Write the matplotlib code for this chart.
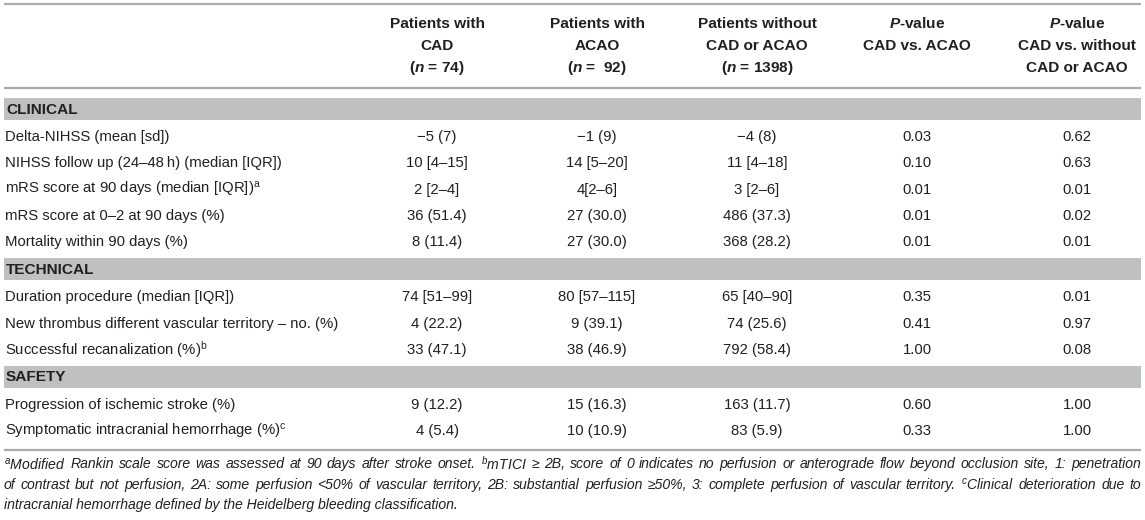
import matplotlib
matplotlib.use("Agg")
import matplotlib.pyplot as plt

plt.rcParams['font.family'] = ['Liberation Sans', 'DejaVu Sans']
plt.rcParams['mathtext.fontset'] = 'custom'
plt.rcParams['mathtext.rm'] = 'Liberation Sans'
plt.rcParams['mathtext.it'] = 'Liberation Sans:italic'
plt.rcParams['mathtext.bf'] = 'Liberation Sans:bold'
plt.rcParams['mathtext.bfit'] = 'Liberation Sans:italic:bold'

# table content
col_headers = [
    ["Patients with", "CAD", r"($\mathbfit{n}$ = 74)"],
    ["Patients with", "ACAO", r"($\mathbfit{n}$ =  92)"],
    ["Patients without", "CAD or ACAO", r"($\mathbfit{n}$ = 1398)"],
    [r"$\mathbfit{P}$-value", "CAD vs. ACAO"],
    [r"$\mathbfit{P}$-value", "CAD vs. without", "CAD or ACAO"],
]
sections = ["CLINICAL", "TECHNICAL", "SAFETY"]
section_sizes = [5, 3, 2]
row_labels = [
    "Delta-NIHSS (mean [sd])",
    "NIHSS follow up (24\u201348\u2009h) (median [IQR])",
    r"mRS score at 90 days (median [IQR])$^{\mathregular{a}}$",
    "mRS score at 0\u20132 at 90 days (%)",
    "Mortality within 90 days (%)",
    "Duration procedure (median [IQR])",
    "New thrombus different vascular territory \u2013 no. (%)",
    r"Successful recanalization (%)$^{\mathregular{b}}$",
    "Progression of ischemic stroke (%)",
    r"Symptomatic intracranial hemorrhage (%)$^{\mathregular{c}}$",
]
cad = ["\u22125 (7)", "10 [4\u201315]", "2 [2\u20134]", "36 (51.4)", "8 (11.4)",
       "74 [51\u201399]", "4 (22.2)", "33 (47.1)", "9 (12.2)", "4 (5.4)"]
acao = ["\u22121 (9)", "14 [5\u201320]", "4[2\u20136]", "27 (30.0)", "27 (30.0)",
        "80 [57\u2013115]", "9 (39.1)", "38 (46.9)", "15 (16.3)", "10 (10.9)"]
without = ["\u22124 (8)", "11 [4\u201318]", "3 [2\u20136]", "486 (37.3)", "368 (28.2)",
           "65 [40\u201390]", "74 (25.6)", "792 (58.4)", "163 (11.7)", "83 (5.9)"]
p_cad_acao = ["0.03", "0.10", "0.01", "0.01", "0.01", "0.35", "0.41", "1.00", "0.60", "0.33"]
p_cad_without = ["0.62", "0.63", "0.01", "0.02", "0.01", "0.01", "0.97", "0.08", "1.00", "1.00"]
footnotes = [
    r"$^{\mathit{a}}$Modified Rankin scale score was assessed at 90 days after stroke onset. "
    r"$^{\mathit{b}}$mTICI " + "\u2265" + " 2B, score of 0 indicates no perfusion or anterograde flow beyond occlusion site, 1: penetration",
    "of contrast but not perfusion, 2A: some perfusion <50% of vascular territory, 2B: substantial perfusion \u226550%, "
    r"3: complete perfusion of vascular territory. $^{\mathit{c}}$Clinical deterioration due to",
    "intracranial hemorrhage defined by the Heidelberg bleeding classification.",
]

# layout (pixels)
W, H = 1145, 520
left, right = 4, 1141
col_x = [437, 597, 757, 917, 1077]
txt = '#231f20'
band_col = '#bfc0c2'
rule_col = '#a9abae'
fs = 10.7
fs_head = 11.1
fs_note = 10.1

fig = plt.figure(figsize=(W / 100, H / 100), dpi=100)
ax = fig.add_axes([0, 0, 1, 1])
ax.set_xlim(0, W)
ax.set_ylim(H, 0)
ax.axis('off')

# header
ax.plot([left, right], [4, 4], color=rule_col, lw=1.6, solid_capstyle='butt')
for cx, lines in zip(col_x, col_headers):
    for k, s in enumerate(lines):
        ax.text(cx, 24 + 22 * k, s, ha='center', va='center', fontsize=fs_head,
                fontweight='bold', color=txt)
ax.plot([left, right], [87.5, 87.5], color=rule_col, lw=1.6, solid_capstyle='butt')

# body
y = 98
r = 0
band_h, row_h = 22, 26.3
columns = [cad, acao, without, p_cad_acao, p_cad_without]
for name, n in zip(sections, section_sizes):
    ax.add_patch(plt.Rectangle((left, y), right - left, band_h, color=band_col, lw=0))
    ax.text(left + 2, y + band_h / 2 + 0.5, name, ha='left', va='center', fontsize=fs_head,
            fontweight='bold', color=txt)
    yc = y + band_h + 17
    for i in range(n):
        ax.text(left + 1, yc, row_labels[r], ha='left', va='center', fontsize=fs, color=txt)
        for cx, vals in zip(col_x, columns):
            ax.text(cx, yc, vals[r], ha='center', va='center', fontsize=fs, color=txt)
        r += 1
        if i < n - 1:
            yc += row_h
    y = yc + 16

ax.plot([left, right], [y + 3, y + 3], color=rule_col, lw=1.6, solid_capstyle='butt')

# footnotes, justified over the table width
renderer = fig.canvas.get_renderer()
fy = y + 17
for k, line in enumerate(footnotes):
    if k == len(footnotes) - 1:
        ax.text(left, fy, line, ha='left', va='center', fontsize=fs_note,
                style='italic', color=txt)
    else:
        words = line.split(' ')
        arts = [ax.text(0, fy, w, ha='left', va='center', fontsize=fs_note,
                        style='italic', color=txt) for w in words]
        widths = [a.get_window_extent(renderer).width for a in arts]
        gap = ((right - left) - sum(widths)) / (len(words) - 1)
        xpos = left
        for a, wd in zip(arts, widths):
            a.set_x(xpos)
            xpos += wd + gap
    fy += 20.5

fig.savefig('out.png', dpi=100, facecolor='white')
